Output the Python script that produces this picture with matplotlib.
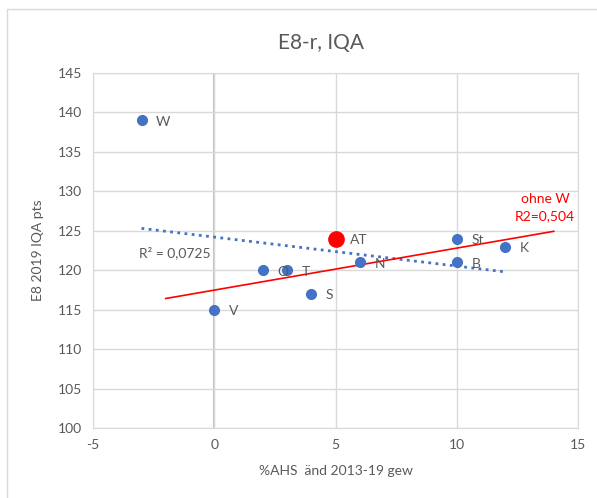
import numpy as np
import matplotlib
matplotlib.use("Agg")
import matplotlib.pyplot as plt
from matplotlib.patches import Rectangle

plt.rcParams['font.family'] = ['Lato', 'DejaVu Sans']
plt.rcParams['axes.unicode_minus'] = False

# data
labels = ["W", "AT", "St", "K", "N", "B", "O", "T", "S", "V"]
x_vals = [-3, 5, 10, 12, 6, 10, 2, 3, 4, 0]
y_vals = [139, 124, 124, 123, 121, 121, 120, 120, 117, 115]
highlight = "AT"

grey = '#595959'
blue = '#4472C4'

fig = plt.figure(figsize=(5.97, 4.98), dpi=100)
fig.patches.append(Rectangle((7/597, -0.1), 1.2, 1 - 9/498 + 0.1, transform=fig.transFigure,
                             fill=False, edgecolor='#d9d9d9', linewidth=1))
ax = fig.add_axes([93/597, 1 - 428/498, (578-93)/597, (428-73)/498])

ax.set_xlim(-5, 15)
ax.set_ylim(100, 145)
ax.set_xticks([-5, 0, 5, 10, 15])
ax.set_yticks(range(100, 150, 5))
ax.grid(True, color='#d9d9d9', linewidth=1)
ax.set_axisbelow(True)
ax.axvline(0, color='#bfbfbf', linewidth=1.5, zorder=0.5)
for s in ax.spines.values():
    s.set_color('#d9d9d9')
ax.tick_params(length=0, colors=grey, labelsize=10, pad=8)

xs = np.array(x_vals, dtype=float)
ys = np.array(y_vals, dtype=float)

# trend line, all points
k, d = np.polyfit(xs, ys, 1)
tx = np.array([xs.min(), xs.max()])
ax.plot(tx, k*tx + d, linestyle=(0, (1, 1.6)), color=blue, linewidth=2, zorder=2)

# trend line without W
mask = np.array([l != "W" for l in labels])
k2, d2 = np.polyfit(xs[mask], ys[mask], 1)
tx2 = np.array([xs[mask].min() - 2, xs[mask].max() + 2])
ax.plot(tx2, k2*tx2 + d2, color='#FF0000', linewidth=1.2, zorder=2)

for lab, x, y in zip(labels, x_vals, y_vals):
    if lab == highlight:
        ax.plot(x, y, 'o', color='#FF0000', markersize=11, zorder=4)
    else:
        ax.plot(x, y, 'o', color=blue, markersize=7, zorder=3)
    ax.annotate(lab, (x, y), xytext=(10.5, -1), textcoords='offset points',
                ha='left', va='center', color=grey, fontsize=10, zorder=5)

ax.text(-3.1, 122.2, "R² = 0,0725", color=grey, fontsize=10, ha='left', va='center')
ax.text(13.65, 129.0, "ohne W", color='#FF0000', fontsize=10, ha='center', va='center')
ax.text(13.65, 126.9, "R2=0,504", color='#FF0000', fontsize=10, ha='center', va='center')

fig.text(321/597, 1 - 43/498, "E8-r, IQA", ha='center', va='center', color=grey, fontsize=15)
ax.set_xlabel("%AHS  änd 2013-19 gew", color=grey, fontsize=10, labelpad=10)
ax.set_ylabel("E8 2019 IQA pts", color=grey, fontsize=10, labelpad=10)

fig.savefig("out.png", dpi=100)
